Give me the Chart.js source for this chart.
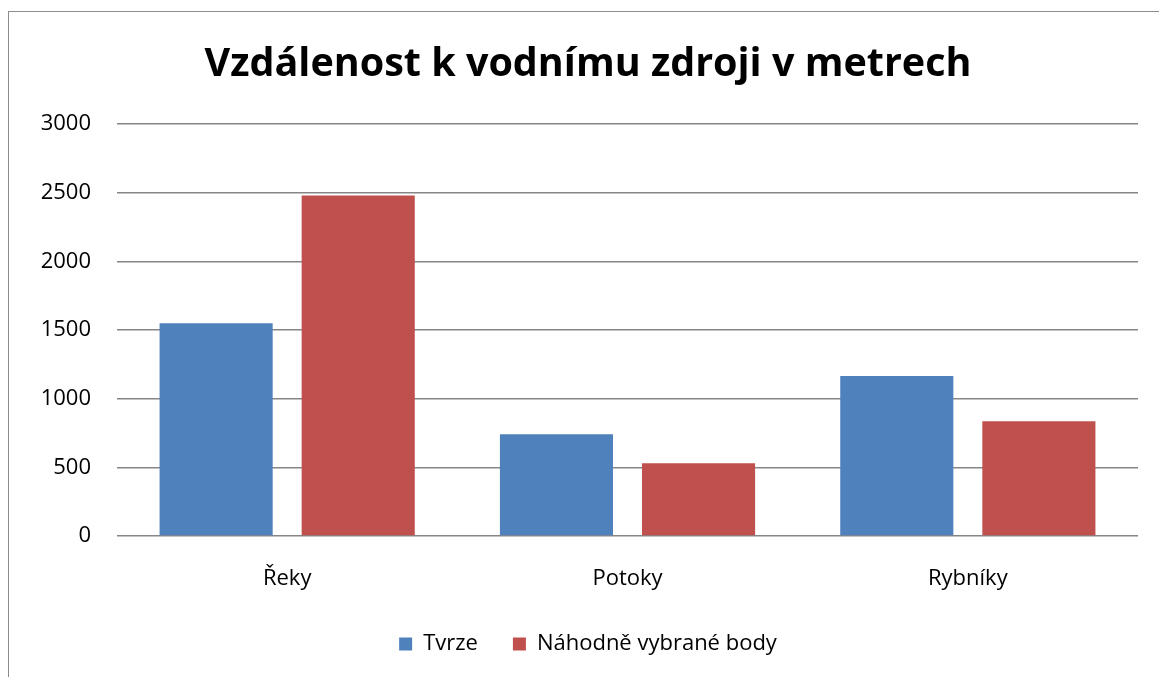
<!DOCTYPE html>
<html>
<head>
<meta charset="utf-8">
<script src="https://cdn.jsdelivr.net/npm/chart.js@4"></script>
<style>
    html, body { margin: 0; padding: 0; background: #fff; overflow: hidden; }
    #wrap { position: relative; width: 1159px; height: 677px; }
    #frame {
        position: absolute; left: 8px; top: 11px; width: 1200px; height: 700px;
        border: 1.5px solid #8c8c8c; pointer-events: none;
    }
</style>
</head>
<body>
<div id="wrap">
    <canvas id="myChart" width="1159" height="677"></canvas>
    <div id="frame"></div>
</div>
<script>
// --- DATA ---
const categories = ['Řeky', 'Potoky', 'Rybníky'];
const tvrze = [1550, 740, 1165];
const nahodne = [2480, 530, 835];
const seriesNames = ['Tvrze', 'Náhodně vybrané body'];
const yTicks = [0, 500, 1000, 1500, 2000, 2500, 3000];

const fontFamily = "'Open Sans', 'Noto Sans', sans-serif";
const gridColor = '#868686';

const ctx = document.getElementById('myChart').getContext('2d');

new Chart(ctx, {
    type: 'bar',
    data: {
        labels: categories,
        datasets: [
            { label: seriesNames[0], data: tvrze, backgroundColor: '#4F81BD' },
            { label: seriesNames[1], data: nahodne, backgroundColor: '#C0504D' }
        ]
    },
    options: {
        responsive: false,
        animation: false,
        devicePixelRatio: 1,
        categoryPercentage: 0.835,
        barPercentage: 0.796,
        // left/right padding also centres the title like the original
        layout: { padding: { left: 38, right: 21, top: 0, bottom: 12 } },
        plugins: {
            title: {
                display: true,
                text: 'Vzdálenost k vodnímu zdroji v metrech',
                color: '#000',
                font: { family: fontFamily, size: 39.5, weight: 'bold', lineHeight: 1.2 },
                padding: { top: 41, bottom: 35.6 }
            },
            legend: {
                position: 'bottom',
                labels: {
                    color: '#000',
                    font: { family: fontFamily, size: 22 },
                    boxWidth: 13,
                    boxHeight: 13,
                    padding: 35
                }
            },
            tooltip: { enabled: false }
        },
        scales: {
            x: {
                grid: { display: false, drawTicks: false },
                border: { display: false },
                ticks: { color: '#000', font: { family: fontFamily, size: 22 }, padding: 30 },
                afterFit: (scale) => { scale.height = 62; }
            },
            y: {
                min: 0,
                max: 3000,
                afterBuildTicks: (scale) => { scale.ticks = yTicks.map(v => ({ value: v })); },
                grid: { color: gridColor, lineWidth: 1.5, drawTicks: false },
                border: { display: false },
                ticks: {
                    color: '#000',
                    font: { family: fontFamily, size: 22 },
                    padding: 26,
                    callback: (v) => String(v)
                },
                afterFit: (scale) => { scale.width = 79; }
            }
        }
    }
});
</script>
</body>
</html>
